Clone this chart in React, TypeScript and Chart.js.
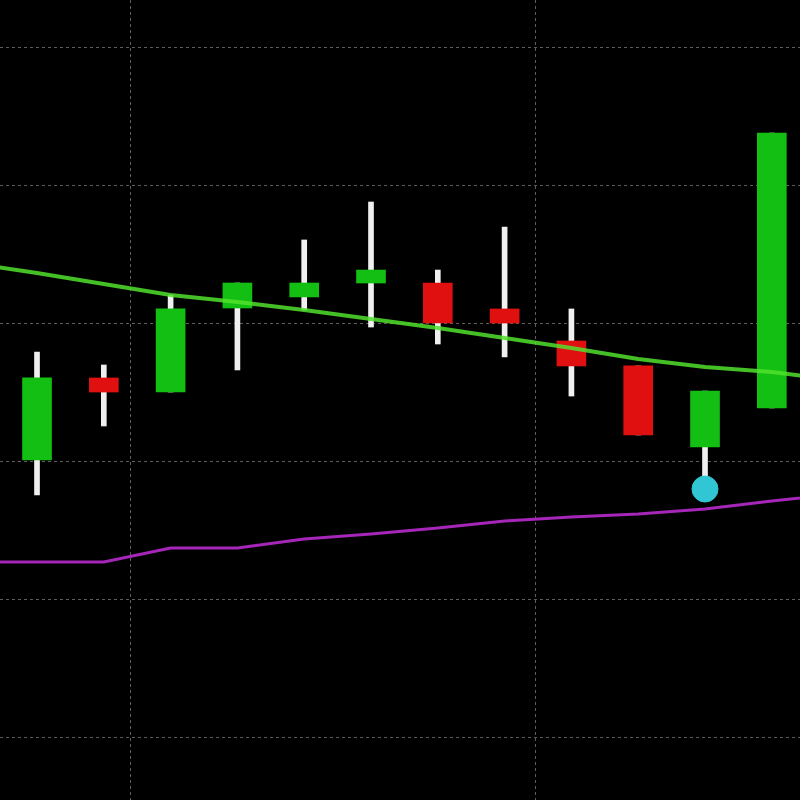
import React, { useEffect, useRef } from "react";
import { Chart, registerables } from "chart.js";

Chart.register(...registerables);

// Candle data (index, open, high, low, close)
const candleIndex = [0, 1, 2, 3, 4, 5, 6, 7, 8, 9, 10, 11];
const opens = [30.15, 36.09, 35.07, 41.16, 41.96, 42.97, 42.97, 41.09, 38.77, 36.96, 31.09, 33.91];
const highs = [37.97, 37.03, 42.1, 42.97, 46.09, 48.84, 43.91, 47.03, 41.09, 36.96, 35.14, 53.84];
const lows = [27.61, 32.61, 35.07, 36.67, 41.01, 39.78, 38.55, 37.61, 34.78, 31.96, 28.19, 33.91];
const closes = [36.09, 35.07, 41.09, 42.97, 42.97, 43.91, 40.07, 40.07, 36.96, 31.96, 35.14, 53.84];

// Moving-average lines (include one point beyond each edge)
const maIndex = [-1, 0, 1, 2, 3, 4, 5, 6, 7, 8, 9, 10, 11, 12];
const fastMA = [44.42, 43.7, 42.9, 42.1, 41.59, 41.01, 40.36, 39.71, 38.99, 38.26, 37.46, 36.88, 36.52, 35.94];
const slowMA = [22.75, 22.75, 22.75, 23.77, 23.77, 24.42, 24.78, 25.22, 25.72, 26.01, 26.23, 26.59, 27.17, 27.68];

// Signal marker
const signalIndex = [10];
const signalValue = [28.04];

// Grid positions
const xGridTicks = [1.4, 7.455];
const yGridTicks = [10, 20, 30, 40, 50, 60];

const GREEN = "#12bf12";
const RED = "#e01010";

export default function App() {
  const ref = useRef<HTMLCanvasElement | null>(null);

  useEffect(() => {
    if (!ref.current) return;
    const bodyColors = candleIndex.map((_, i) => (closes[i] >= opens[i] ? GREEN : RED));
    const chart = new Chart(ref.current, {
      type: "bar",
      data: {
        datasets: [
          {
            type: "line",
            label: "fast",
            data: maIndex.map((x, i) => ({ x, y: fastMA[i] })),
            borderColor: "rgba(80,225,45,0.85)",
            borderWidth: 4,
            pointRadius: 0,
            tension: 0,
            order: 1,
          } as any,
          {
            type: "line",
            label: "slow",
            data: maIndex.map((x, i) => ({ x, y: slowMA[i] })),
            borderColor: "#a526b8",
            borderWidth: 3,
            pointRadius: 0,
            tension: 0,
            order: 1,
          } as any,
          {
            type: "scatter",
            label: "signal",
            data: signalIndex.map((x, i) => ({ x, y: signalValue[i] })),
            backgroundColor: "#30c6d4",
            borderColor: "#30c6d4",
            pointRadius: 13,
            order: 0,
          } as any,
          {
            label: "body",
            data: candleIndex.map((x, i) => ({ x, y: [opens[i], closes[i]] })),
            backgroundColor: bodyColors,
            barThickness: 29,
            grouped: false,
            order: 2,
          } as any,
          {
            label: "wick",
            data: candleIndex.map((x, i) => ({ x, y: [lows[i], highs[i]] })),
            backgroundColor: "#f0f0f0",
            barThickness: 5,
            grouped: false,
            order: 3,
          } as any,
        ],
      },
      options: {
        animation: false,
        responsive: false,
        maintainAspectRatio: false,
        layout: { padding: 0, autoPadding: false } as any,
        plugins: { legend: { display: false }, tooltip: { enabled: false } },
        scales: {
          x: {
            type: "linear",
            min: -0.554,
            max: 11.422,
            offset: false,
            afterBuildTicks: (scale: any) => {
              scale.ticks = xGridTicks.map((v) => ({ value: v }));
            },
            ticks: { display: false },
            border: { display: false, dash: [3, 3] },
            grid: { color: "#5e5e5e", lineWidth: 1, drawTicks: false, offset: false },
          } as any,
          y: {
            type: "linear",
            min: 5.507,
            max: 63.478,
            afterBuildTicks: (scale: any) => {
              scale.ticks = yGridTicks.map((v) => ({ value: v }));
            },
            ticks: { display: false },
            border: { display: false, dash: [3, 3] },
            grid: { color: "#5e5e5e", lineWidth: 1, drawTicks: false },
          } as any,
        },
      },
      plugins: [
        {
          id: "bg",
          beforeDraw: (c: any) => {
            const ctx = c.ctx;
            ctx.save();
            ctx.fillStyle = "#000";
            ctx.fillRect(0, 0, c.width, c.height);
            ctx.restore();
          },
        },
      ],
    });
    return () => chart.destroy();
  }, []);

  return (
    <div style={{ position: "fixed", left: 0, top: 0, width: 800, height: 800, background: "#000" }}>
      <canvas ref={ref} width={800} height={800} style={{ display: "block", width: 800, height: 800 }} />
    </div>
  );
}
